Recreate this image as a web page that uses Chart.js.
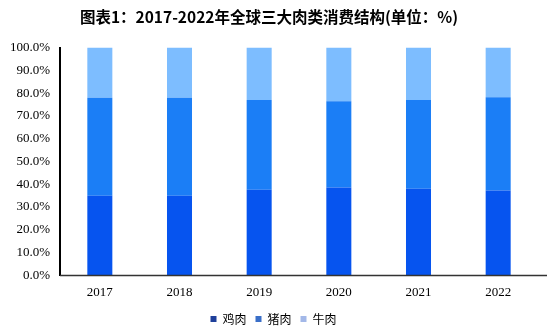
<!DOCTYPE html>
<html>
<head>
<meta charset="utf-8">
<script src="https://cdn.jsdelivr.net/npm/chart.js@4"></script>
<style>
  html, body { margin: 0; padding: 0; background: #fff; }
</style>
</head>
<body>
<canvas id="grafico" width="547" height="336"></canvas>
<script>
// 2017-2022 全球三大肉类消费结构 (%)
const anos = ['2017', '2018', '2019', '2020', '2021', '2022'];
const frango = [35.0, 35.0, 37.6, 38.6, 38.0, 37.3];
const porco = [43.0, 43.0, 39.4, 37.9, 39.0, 40.9];
const boi = [22.0, 22.0, 23.0, 23.5, 23.0, 21.8];
const nomes = ['鸡肉', '猪肉', '牛肉'];
const ticksY = [0, 10, 20, 30, 40, 50, 60, 70, 80, 90, 100];

const coresBarra = ['#0654ef', '#1b7ef6', '#7dbdff'];
const coresLegenda = ['#1e3f9a', '#3a6fc8', '#a3b8e8'];

// eixo X desenhado à mão, indo até a borda direita do canvas
const eixoX = {
    id: 'eixoX',
    afterLayout(chart) {
        // legenda centralizada na largura toda do canvas
        chart.legend.right = chart.width;
    },
    afterDatasetsDraw(chart) {
        const { ctx, chartArea } = chart;
        ctx.save();
        ctx.strokeStyle = '#333';
        ctx.lineWidth = 1.5;
        ctx.beginPath();
        ctx.moveTo(chartArea.left, chartArea.bottom);
        ctx.lineTo(chart.width, chartArea.bottom);
        ctx.stroke();
        ctx.restore();
    }
};

const ctx = document.getElementById('grafico');

new Chart(ctx, {
    type: 'bar',
    data: {
        labels: anos,
        datasets: [frango, porco, boi].map((dados, i) => ({
            label: nomes[i],
            data: dados,
            backgroundColor: coresBarra[i],
            borderWidth: 0,
            barPercentage: 0.314,
            categoryPercentage: 1
        }))
    },
    options: {
        responsive: false,
        animation: false,
        layout: { padding: { left: 0, right: 9, top: 0, bottom: 1 } },
        plugins: {
            title: {
                display: true,
                text: '图表1：2017-2022年全球三大肉类消费结构(单位：%)',
                color: '#000',
                font: { family: '"Noto Sans CJK SC"', size: 15.5, weight: 'bold' },
                padding: { top: 8, bottom: 21 }
            },
            legend: {
                position: 'bottom',
                labels: {
                    color: '#000',
                    font: { family: '"Noto Sans CJK SC"', size: 12 },
                    boxWidth: 6,
                    boxHeight: 6,
                    padding: 9,
                    generateLabels(chart) {
                        return chart.data.datasets.map((ds, i) => ({
                            text: ds.label,
                            fillStyle: coresLegenda[i],
                            strokeStyle: coresLegenda[i],
                            lineWidth: 0,
                            datasetIndex: i
                        }));
                    }
                }
            },
            tooltip: { enabled: false }
        },
        scales: {
            x: {
                stacked: true,
                afterFit(scale) { scale.height -= 5; },
                grid: { display: false, drawTicks: false },
                border: { display: false },
                ticks: {
                    color: '#000',
                    padding: 9,
                    font: { family: '"Liberation Serif"', size: 13 }
                }
            },
            y: {
                stacked: true,
                min: 0,
                max: 100,
                afterFit(scale) { scale.width = 60; },
                afterBuildTicks(scale) {
                    scale.ticks = ticksY.map(v => ({ value: v }));
                },
                grid: { display: false, drawTicks: false },
                border: { display: true, color: '#000', width: 2 },
                ticks: {
                    color: '#000',
                    padding: 10,
                    font: { family: '"Liberation Serif"', size: 13 },
                    callback: v => v.toFixed(1) + '%'
                }
            }
        }
    },
    plugins: [eixoX]
});
</script>
</body>
</html>
